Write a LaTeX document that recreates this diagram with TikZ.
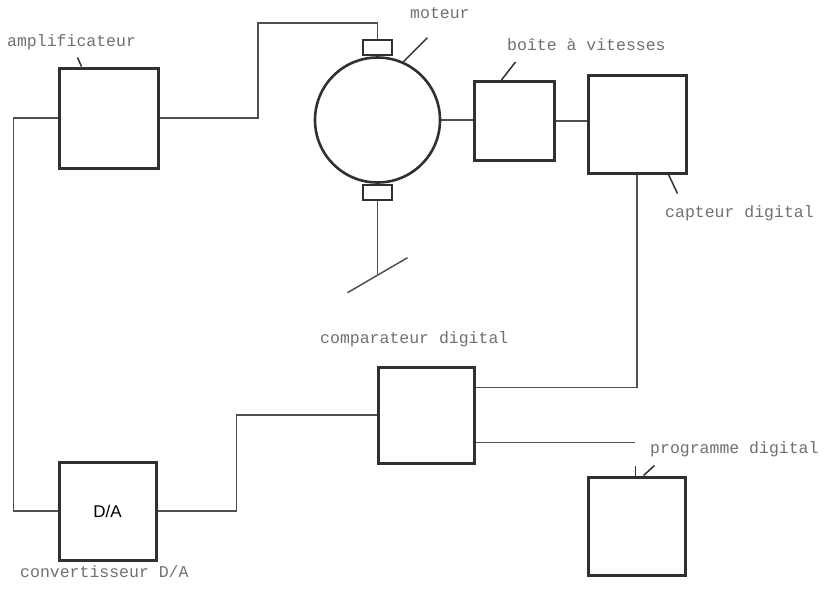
\documentclass[tikz,border=0pt]{standalone}
\usepackage{fontspec}
\setmonofont{Liberation Mono}
\setsansfont{Liberation Sans}
\usetikzlibrary{calc}
\definecolor{InkDark}{HTML}{303030}
\definecolor{InkWire}{HTML}{505050}
\definecolor{InkText}{HTML}{707070}
\tikzset{
  block/.style={rectangle, draw=InkDark, line width=3pt, inner sep=0pt},
  tab/.style={rectangle, draw=InkDark, line width=2.4pt, inner sep=0pt,
    minimum width=29pt, minimum height=15pt},
  motorbody/.style={circle, draw=InkDark, line width=2.6pt, inner sep=0pt,
    minimum size=125pt},
  caption/.style={anchor=west, inner sep=0pt, text=InkText,
    font=\fontsize{16.5}{18}\selectfont\ttfamily},
  wire/.style={draw=InkWire, line width=1.5pt},
  leader/.style={draw=InkDark, line width=1.5pt}
}

\begin{document}
\begin{tikzpicture}[x=1pt, y=-1pt]

\useasboundingbox (0,0) rectangle (827,598);

% blocks
\node[block, minimum width=99pt, minimum height=100pt] (amp) at (108.5,118) {};
\node[block, minimum width=97pt, minimum height=98pt,
  font=\fontsize{17}{20}\selectfont\sffamily] (da) at (107.5,511) {D/A};
\node[block, minimum width=80pt, minimum height=79pt] (gear) at (514,121) {};
\node[block, minimum width=98pt, minimum height=98pt] (capt) at (637,124) {};
\node[block, minimum width=96pt, minimum height=96pt] (comp) at (426,415) {};
\node[block, minimum width=97pt, minimum height=98pt] (prog) at (636.5,526) {};

% motor with brush tabs
\node[motorbody] (motor) at (377.5,120) {};
\node[tab, anchor=south] (tabtop) at (motor.north) {};
\node[tab, anchor=north] (tabbot) at (motor.south) {};

% captions
\node[caption] (lamp)  at (7,42)    {amplificateur};
\node[caption] (lmot)  at (410,13)  {moteur};
\node[caption] (lgear) at (507,45)  {boîte à vitesses};
\node[caption] (lcapt) at (665,213) {capteur digital};
\node[caption] (lcomp) at (320,339) {comparateur digital};
\node[caption] (lprog) at (650,449) {programme digital};
\node[caption] (lda)   at (20,572)  {convertisseur D/A};

\coordinate (kneeA) at (258,23);
\coordinate (shaftend) at ($(tabbot.south)+(0,74)$);
\coordinate (progend) at (635,442);
\coordinate (compout) at ($(comp.north east)!0.78!(comp.south east)$);

% connections
\draw[wire] (amp.west) -- ++(-44,0) |- (da.west);
\draw[wire] (amp.east) -| (kneeA) -| (tabtop.north);
\draw[wire] (motor.east) -- (motor.east -| gear.west);
\draw[wire] (gear.east) -- (gear.east -| capt.west);
\draw[wire] (capt.south) |- ($(comp.north east)!0.22!(comp.south east)$);
\draw[wire] (compout) -- (compout -| progend);
\draw[wire] (da.east) -- ++(79,0) |- (comp.west);
\draw[wire] (tabbot.south) -- (shaftend);
\draw[wire] ($(shaftend)+(-30,17.5)$) -- ($(shaftend)+(30,-17.5)$);

% leader ticks
\draw[leader] ($(amp.north west)+(24,0)$) -- ++(-4,-9);
\draw[leader] (motor.66) -- ++(24,-24);
\draw[leader] ($(gear.north west)+(29,0)$) -- ++(14,-18);
\draw[leader] ($(capt.south east)+(-19,0)$) -- ++(9,19);
\draw[leader] ($(prog.north west)+(49,0)$) -- ++(0,-10);
\draw[leader] ($(prog.north west)+(57,0)$) -- ++(11,-10);

\end{tikzpicture}
\end{document}
